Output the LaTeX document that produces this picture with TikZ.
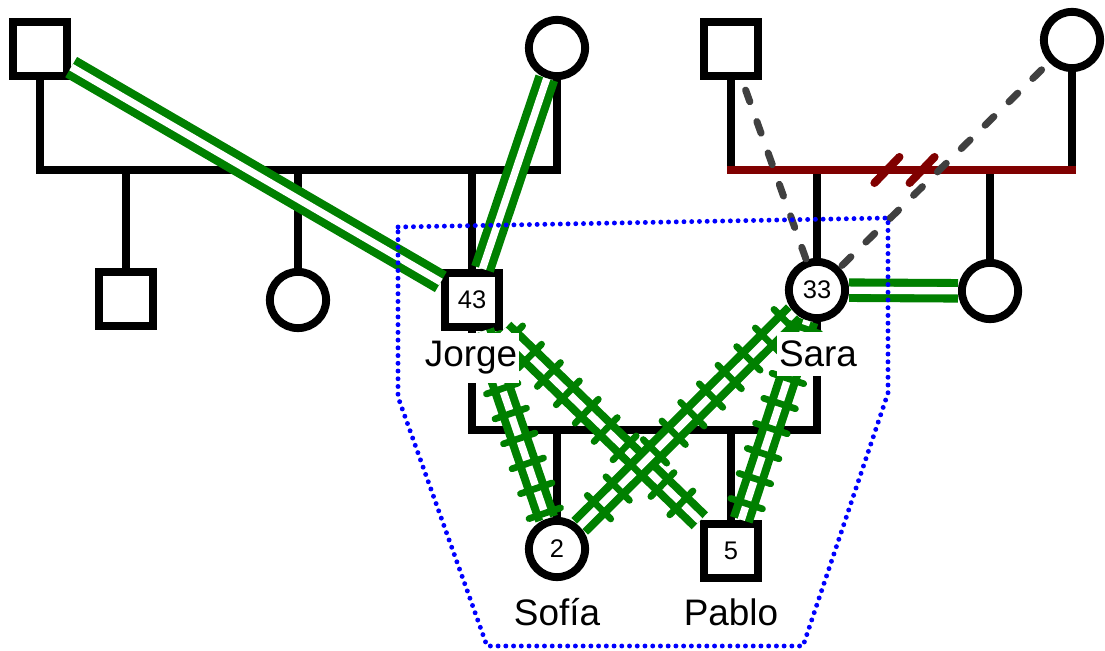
\documentclass[tikz,border=0pt]{standalone}
\usepackage{fontspec}
\setmainfont{Liberation Sans}
\usepackage{xcolor}
\usetikzlibrary{decorations.markings}

\definecolor{relgreen}{RGB}{0,128,0}
\definecolor{divred}{RGB}{128,0,0}
\definecolor{dashgray}{RGB}{64,64,64}

\tikzset{
  male/.style={rectangle,minimum size=31pt},
  female/.style={circle,minimum size=32pt},
  namelbl/.style={fill=white,inner xsep=1pt,inner ysep=5pt,font=\fontsize{21}{24}\selectfont},
  kin/.style={draw,line width=4.5pt},
  divorce/.style={draw=divred,line width=4.6pt,line cap=round},
  closerel/.style={draw=relgreen,double=white,line width=4.6pt,double distance=4.2pt},
  hostile/.style={closerel,postaction={decorate,decoration={markings,
      mark=between positions 0.04 and 0.98 step 15pt with
      {\draw[relgreen,line width=3.8pt,line cap=round] (0pt,-9.5pt) -- (0pt,9.5pt);}}}},
  distant/.style={draw=dashgray,line width=4pt,line cap=round,dash pattern=on 7pt off 12pt},
  household/.style={draw=blue,line width=2.8pt,line cap=round,dash pattern=on 0pt off 4.4pt}
}

\begin{document}
\begin{tikzpicture}[x=0.02cm,y=-0.02cm]
\useasboundingbox (0,0) rectangle (1105,651);

\begin{scope}[every node/.style={draw,line width=4.5pt,fill=white,inner sep=0pt,font=\fontsize{14.5}{14.5}\selectfont}]
   % Jorge's parents
   \node[male] (gf1) at (40,49) {};
   \node[female] (gm1) at (557,48) {};
   % Jorge and his siblings
   \node[male] (uncle) at (126,299) {};
   \node[female] (aunt) at (298,300) {};
   \node[male] (jorge) at (472,300) {43};
   % Sara's parents
   \node[male] (gf2) at (731,49) {};
   \node[female] (gm2) at (1072,40) {};
   % Sara and her sister
   \node[female] (sara) at (817,290) {33};
   \node[female] (sister) at (990,291) {};
   % the children
   \node[female] (sofia) at (557,549) {2};
   \node[male] (pablo) at (731,551) {5};
\end{scope}

\coordinate (sib1) at (300,170);
\coordinate (sib2) at (900,170);
\coordinate (couple) at (640,430);
\coordinate (brk) at (904,170);

% family lines
\draw[kin] (gf1) |- (sib1) -| (gm1);
\draw[kin] (uncle) -- (uncle |- sib1);
\draw[kin] (aunt) -- (aunt |- sib1);
\draw[kin] (jorge) -- (jorge |- sib1);

\draw[kin] (gf2) -- (gf2 |- sib2);
\draw[kin] (gm2) -- (gm2 |- sib2);
\draw[kin] (sara) -- (sara |- sib2);
\draw[kin] (sister) -- (sister |- sib2);
\draw[divorce,line cap=rect] (gf2 |- sib2) -- (gm2 |- sib2);
\draw[divorce] ([xshift=-10]brk) ++(-12,13) -- ++(25,-26);
\draw[divorce] ([xshift=10]brk) ++(-12,13) -- ++(25,-26);

\draw[kin] (jorge) |- (couple) -| (sara);
\draw[kin] (sofia) -- (sofia |- couple);
\draw[kin] (pablo) -- (pablo |- couple);

% relationships
\path (gf1) edge[closerel] (jorge);
\path (gm1) edge[closerel] (jorge);
\path (sara) edge[closerel] (sister);

\path (gf2) edge[distant,shorten <=6pt] (sara);
\path (gm2) edge[distant,shorten <=6pt] (sara);

\path (jorge) edge[hostile] (sofia);
\path (jorge) edge[hostile] (pablo);
\path (sara) edge[hostile] (sofia);
\path (sara) edge[hostile] (pablo);

% names
\node[namelbl] (jorgelbl) at (471,358) {Jorge};
\node[namelbl] (saralbl) at (818,354) {Sara};
\node[namelbl] (sofialbl) at (557,612) {Sofía};
\node[namelbl] (pablolbl) at (731,612) {Pablo};

% household
\draw[household] (398,227) -- (888,218) -- (888,393) -- (803,646) -- (487,646) -- (398,397) -- cycle;
\end{tikzpicture}
\end{document}
